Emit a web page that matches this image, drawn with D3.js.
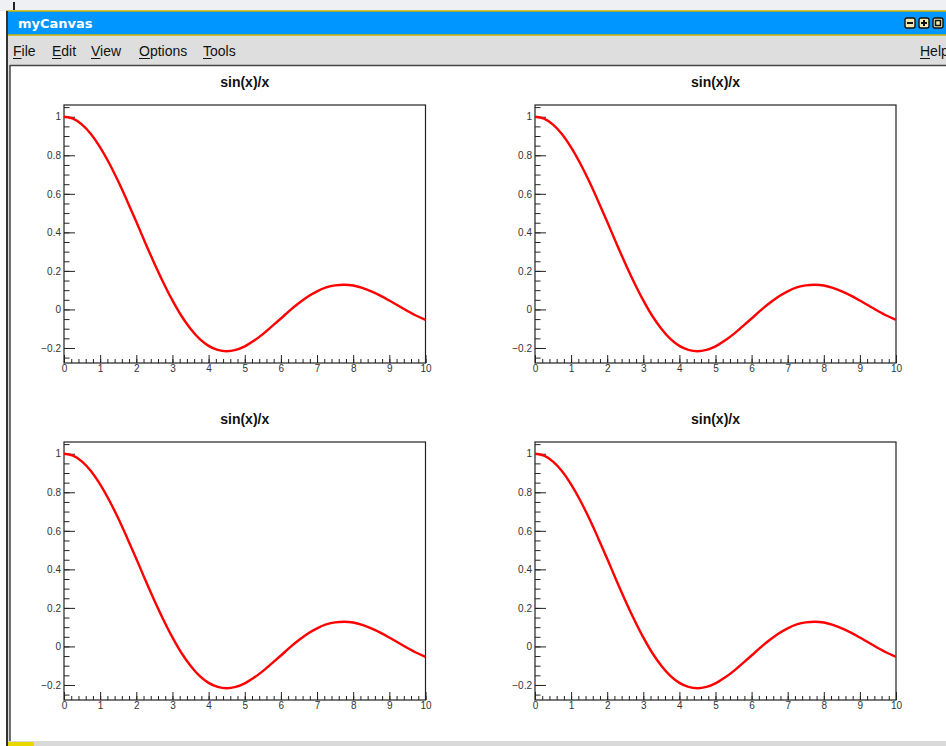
<!DOCTYPE html>
<html lang="en">
<head>
  <meta charset="UTF-8">
  <title>myCanvas</title>
  <script src="https://d3js.org/d3.v7.min.js"></script>
  <style>
    body { margin: 0; background: #ffffff; }
    svg { display: block; }
    .menu { font-family: "Liberation Sans", Arial, sans-serif; font-size: 14px; fill: #111; }
    .tick text { font-family: "Liberation Sans", Arial, sans-serif; font-size: 10px; fill: #333; }
    .title { font-family: "Liberation Sans", Arial, sans-serif; font-size: 14px; font-weight: bold; fill: #111; }
  </style>
</head>
<body>
  <svg id="chart" width="946" height="746"></svg>

  <script>
    // curve values (x from 0 to 10, step 0.25)
    const xValues = [0, 0.25, 0.5, 0.75, 1, 1.25, 1.5, 1.75, 2, 2.25, 2.5, 2.75, 3, 3.25, 3.5, 3.75,
      4, 4.25, 4.5, 4.75, 5, 5.25, 5.5, 5.75, 6, 6.25, 6.5, 6.75, 7, 7.25, 7.5, 7.75,
      8, 8.25, 8.5, 8.75, 9, 9.25, 9.5, 9.75, 10];
    const yValues = [1.000, 0.990, 0.959, 0.909, 0.841, 0.759, 0.665, 0.562, 0.455, 0.345, 0.239, 0.139,
      0.047, -0.034, -0.100, -0.153, -0.189, -0.210, -0.217, -0.210, -0.192, -0.163, -0.128, -0.088,
      -0.047, -0.005, 0.033, 0.067, 0.094, 0.114, 0.125, 0.128, 0.124, 0.112, 0.094, 0.072,
      0.046, 0.019, -0.008, -0.033, -0.054];
    const xTicks = [0, 1, 2, 3, 4, 5, 6, 7, 8, 9, 10];
    const yTicks = [-0.2, 0, 0.2, 0.4, 0.6, 0.8, 1];
    const yDomain = [-0.278, 1.061];
    const panelTitles = ["sin(x)/x", "sin(x)/x", "sin(x)/x", "sin(x)/x"];
    const menuItems = ["File", "Edit", "View", "Options", "Tools"];

    const svg = d3.select("#chart");
    const W = 946, H = 746;

    // ---- window decoration ----
    svg.append("rect").attr("x", 0).attr("y", 0).attr("width", W).attr("height", 11).attr("fill", "#eef0f3");
    svg.append("rect").attr("x", 13).attr("y", 2).attr("width", 2).attr("height", 8).attr("fill", "#222");
    svg.append("rect").attr("x", 6).attr("y", 11).attr("width", W).attr("height", H - 11).attr("fill", "#d9d9d9");

    // title bar
    svg.append("rect").attr("x", 7).attr("y", 11).attr("width", W).attr("height", 24)
      .attr("fill", "#0096ff").attr("stroke", "#c8b400").attr("stroke-width", 1.5);
    svg.append("text").attr("x", 18).attr("y", 28)
      .attr("font-family", "DejaVu Sans, sans-serif").attr("font-size", 13).attr("font-weight", "bold")
      .attr("fill", "#ffffff").text("myCanvas");

    const btns = [910, 924, 938];
    btns.forEach((bx, i) => {
      svg.append("rect").attr("x", bx - 5).attr("y", 18).attr("width", 10).attr("height", 10)
        .attr("rx", 2).attr("fill", "#f2eab0").attr("stroke", "#111").attr("stroke-width", 1.4);
      if (i < 2) svg.append("line").attr("x1", bx - 3).attr("x2", bx + 3).attr("y1", 23).attr("y2", 23)
        .attr("stroke", "#111").attr("stroke-width", 2);
      if (i === 1) svg.append("line").attr("x1", bx).attr("x2", bx).attr("y1", 20).attr("y2", 26)
        .attr("stroke", "#111").attr("stroke-width", 2);
      if (i === 2) svg.append("rect").attr("x", bx - 2.5).attr("y", 20.5).attr("width", 5).attr("height", 5)
        .attr("fill", "none").attr("stroke", "#111").attr("stroke-width", 1.5);
    });

    // menu bar
    svg.append("rect").attr("x", 7).attr("y", 36).attr("width", W).attr("height", 29).attr("fill", "#dedede");
    svg.append("line").attr("x1", 7).attr("x2", 7).attr("y1", 11).attr("y2", H).attr("stroke", "#333").attr("stroke-width", 2);
    const menuX = [13, 52, 91, 139, 203];
    menuItems.forEach((m, i) => {
      const t = svg.append("text").attr("class", "menu").attr("x", menuX[i]).attr("y", 56).text(m);
      const w0 = t.node().getComputedTextLength();
      const tmp = svg.append("text").attr("class", "menu").text(m[0]);
      const w1 = tmp.node().getComputedTextLength();
      tmp.remove();
      svg.append("line").attr("x1", menuX[i]).attr("x2", menuX[i] + w1).attr("y1", 58.5).attr("y2", 58.5)
        .attr("stroke", "#111").attr("stroke-width", 1);
    });
    svg.append("text").attr("class", "menu").attr("x", 920).attr("y", 56).text("Help");
    svg.append("line").attr("x1", 920).attr("x2", 930).attr("y1", 58.5).attr("y2", 58.5).attr("stroke", "#111");

    // canvas area
    svg.append("rect").attr("x", 10).attr("y", 65).attr("width", W).attr("height", 676).attr("fill", "#ffffff");
    svg.append("line").attr("x1", 10).attr("x2", W).attr("y1", 65.5).attr("y2", 65.5).attr("stroke", "#444").attr("stroke-width", 1.5);
    svg.append("line").attr("x1", 10).attr("x2", 10).attr("y1", 65).attr("y2", 741).attr("stroke", "#444").attr("stroke-width", 1.5);
    svg.append("rect").attr("x", 8).attr("y", 742).attr("width", 26).attr("height", 4).attr("fill", "#e8d800");

    // ---- panels ----
    const frames = [
      { x0: 64, x1: 425.5, y0: 105, y1: 363 },
      { x0: 535, x1: 896, y0: 105, y1: 363 },
      { x0: 64, x1: 425.5, y0: 442, y1: 700 },
      { x0: 535, x1: 896, y0: 442, y1: 700 }
    ];

    const minorX = d3.range(0, 10.001, 0.2);
    const minorY = d3.range(-0.25, 1.0601, 0.05);

    frames.forEach((f, i) => {
      const g = svg.append("g");
      const x = d3.scaleLinear().domain([0, 10]).range([f.x0, f.x1]);
      const y = d3.scaleLinear().domain(yDomain).range([f.y1, f.y0]);

      g.append("text").attr("class", "title").attr("x", (f.x0 + f.x1) / 2).attr("y", f.y0 - 18)
        .attr("text-anchor", "middle").text(panelTitles[i]);

      // minor ticks
      g.append("g").attr("transform", `translate(0,${f.y1})`)
        .call(d3.axisBottom(x).tickValues(minorX).tickSize(-4).tickFormat(""))
        .call(s => s.select(".domain").remove());
      g.append("g").attr("transform", `translate(${f.x0},0)`)
        .call(d3.axisLeft(y).tickValues(minorY).tickSize(-5.5).tickFormat(""))
        .call(s => s.select(".domain").remove());

      // major ticks and labels
      g.append("g").attr("transform", `translate(0,${f.y1})`)
        .call(d3.axisBottom(x).tickValues(xTicks).tickSize(-8).tickPadding(2).tickFormat(d3.format("d")))
        .call(s => s.select(".domain").remove());
      g.append("g").attr("transform", `translate(${f.x0},0)`)
        .call(d3.axisLeft(y).tickValues(yTicks).tickSize(-11).tickPadding(3).tickFormat(d => d3.format("")(+d.toFixed(1))))
        .call(s => s.select(".domain").remove());

      g.selectAll(".tick line").attr("stroke", "#222");

      // frame
      g.append("rect").attr("x", f.x0).attr("y", f.y0).attr("width", f.x1 - f.x0).attr("height", f.y1 - f.y0)
        .attr("fill", "none").attr("stroke", "#222").attr("stroke-width", 1.2);

      // curve
      const pts = xValues.map((xv, k) => [xv, yValues[k]]);
      g.append("path").datum(pts)
        .attr("fill", "none").attr("stroke", "#ff0000").attr("stroke-width", 2.4)
        .attr("stroke-linejoin", "round")
        .attr("d", d3.line().x(d => x(d[0])).y(d => y(d[1])).curve(d3.curveMonotoneX));
    });
  </script>
</body>
</html>
